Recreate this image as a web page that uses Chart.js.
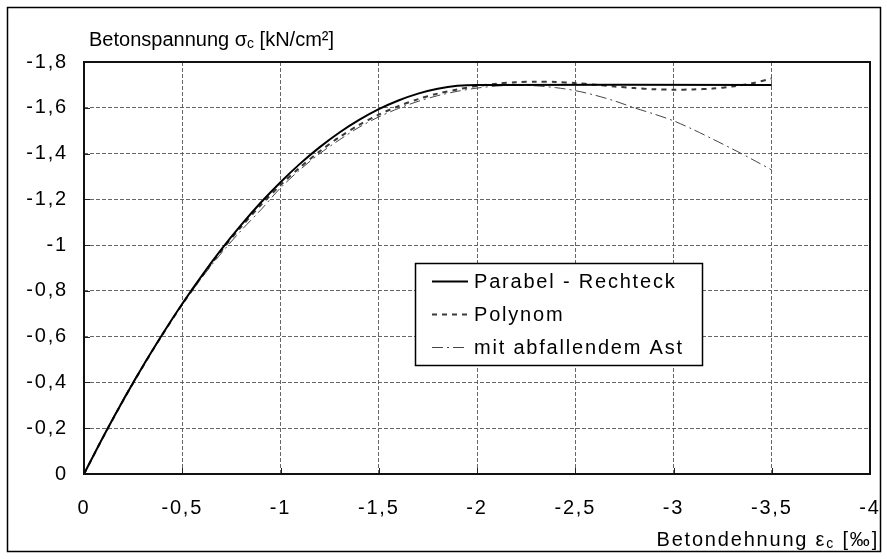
<!DOCTYPE html>
<html>
<head>
<meta charset="utf-8">
<script src="https://cdn.jsdelivr.net/npm/chart.js@4.4.0/dist/chart.umd.min.js"></script>
<style>
  html, body { margin: 0; padding: 0; background: #fff; }
  canvas { display: block; }
</style>
</head>
<body>
<canvas id="chart" width="887" height="559"></canvas>
<script>
/* ── data ──────────────────────────────────────────────────────── */
const LABELS = ['Parabel - Rechteck', 'Polynom', 'mit abfallendem Ast'];

// Parabel - Rechteck
const strainPR = [0, -0.1, -0.2, -0.3, -0.4, -0.5, -0.6, -0.7, -0.8, -0.9, -1.0,
                  -1.1, -1.2, -1.3, -1.4, -1.5, -1.6, -1.7, -1.8, -1.9, -2.0, -3.5];
const stressPR = [0, -0.166, -0.323, -0.472, -0.612, -0.744, -0.867, -0.982, -1.088, -1.186, -1.275,
                  -1.356, -1.428, -1.492, -1.547, -1.594, -1.632, -1.662, -1.683, -1.696, -1.70, -1.70];

// Polynom + mit abfallendem Ast share one strain grid
const strainCurve = [0, -0.1, -0.2, -0.3, -0.4, -0.5, -0.6, -0.7, -0.8, -0.9, -1.0,
                     -1.1, -1.2, -1.3, -1.4, -1.5, -1.6, -1.7, -1.8, -1.9, -2.0,
                     -2.1, -2.2, -2.3, -2.4, -2.5, -2.6, -2.7, -2.8, -2.9, -3.0,
                     -3.1, -3.2, -3.3, -3.4, -3.5];
const stressPoly = [0, -0.165, -0.322, -0.470, -0.610, -0.741, -0.863, -0.976, -1.080, -1.175, -1.262,
                    -1.340, -1.410, -1.472, -1.525, -1.570, -1.607, -1.638, -1.662, -1.680, -1.695,
                    -1.705, -1.712, -1.714, -1.713, -1.708, -1.701, -1.693, -1.686, -1.681, -1.679,
                    -1.680, -1.684, -1.693, -1.707, -1.728];
const stressAst  = [0, -0.168, -0.328, -0.476, -0.613, -0.740, -0.858, -0.966, -1.064, -1.154, -1.250,
                    -1.330, -1.400, -1.460, -1.515, -1.560, -1.597, -1.628, -1.653, -1.672, -1.686,
                    -1.695, -1.698, -1.696, -1.688, -1.675, -1.655, -1.630, -1.600, -1.573, -1.543,
                    -1.505, -1.463, -1.420, -1.375, -1.328];

const xTicks = [0, -0.5, -1, -1.5, -2, -2.5, -3, -3.5, -4];
const yTicks = [0, -0.2, -0.4, -0.6, -0.8, -1, -1.2, -1.4, -1.6, -1.8];

/* ── helpers ───────────────────────────────────────────────────── */
const FONT = '"Liberation Sans", Arial, sans-serif';
const WIDE = '1.8px';   // the source text is a bit wider than Arial
const zip = (xs, ys) => xs.map((x, i) => ({ x, y: ys[i] }));
const fmt = v => String(Number(v.toFixed(1))).replace('.', ',');

// text made of runs (for the subscript c)
function drawRuns(ctx, runs, x, y, align) {
  const widths = runs.map(r => { ctx.font = r.font; return ctx.measureText(r.text).width; });
  const total = widths.reduce((a, b) => a + b, 0);
  let cx = align === 'right' ? x - total : x;
  runs.forEach((r, i) => {
    ctx.font = r.font;
    ctx.fillText(r.text, cx, y + (r.dy || 0));
    cx += widths[i];
  });
}

function noPad(s) {
  s.paddingLeft = s.paddingRight = s.paddingTop = s.paddingBottom = 0;
}

/* ── plugins ───────────────────────────────────────────────────── */
const backdrop = {
  id: 'backdrop',
  beforeDraw(chart) {
    const ctx = chart.ctx;
    ctx.save();
    ctx.fillStyle = '#fff';
    ctx.fillRect(0, 0, chart.width, chart.height);
    ctx.strokeStyle = '#000';
    ctx.lineWidth = 1.5;
    ctx.strokeRect(7.5, 7.5, 873, 544);
    ctx.restore();
    ctx.letterSpacing = WIDE;   // stays on for the tick labels
  }
};

const frame = {
  id: 'frame',
  afterDraw(chart) {
    const { ctx, chartArea: a, scales } = chart;
    ctx.save();

    // inward tick marks
    ctx.strokeStyle = '#222';
    ctx.lineWidth = 1;
    ctx.beginPath();
    xTicks.forEach(v => {
      const px = Math.round(scales.x.getPixelForValue(v)) + 0.5;
      ctx.moveTo(px, a.bottom); ctx.lineTo(px, a.bottom - 6);
    });
    yTicks.forEach(v => {
      const py = Math.round(scales.y.getPixelForValue(v)) + 0.5;
      ctx.moveTo(a.left, py); ctx.lineTo(a.left + 6, py);
    });
    ctx.stroke();

    // plot box
    ctx.strokeStyle = '#111';
    ctx.lineWidth = 2;
    ctx.strokeRect(a.left, a.top, a.right - a.left, a.bottom - a.top);

    // legend box inside the plot
    const lx = 415, ly = 263, lw = 287, lh = 102;
    ctx.fillStyle = '#fff';
    ctx.fillRect(lx, ly, lw, lh);
    ctx.strokeStyle = '#000';
    ctx.lineWidth = 1.5;
    ctx.strokeRect(lx + 0.5, ly + 0.5, lw, lh);
    const rows = [281, 314, 347];
    ctx.textBaseline = 'middle';
    ctx.textAlign = 'left';
    ctx.letterSpacing = WIDE;
    chart.data.datasets.forEach((ds, i) => {
      ctx.strokeStyle = ds.borderColor;
      ctx.lineWidth = ds.borderWidth;
      ctx.setLineDash(ds.borderDash || []);
      ctx.beginPath();
      ctx.moveTo(432, rows[i] + 0.5); ctx.lineTo(468, rows[i] + 0.5);
      ctx.stroke();
      ctx.setLineDash([]);
      ctx.fillStyle = '#000';
      ctx.font = `20px ${FONT}`;
      ctx.fillText(ds.label, 474, rows[i] + 1);
    });

    // axis titles
    ctx.textBaseline = 'alphabetic';
    ctx.fillStyle = '#000';
    ctx.letterSpacing = '0px';
    drawRuns(ctx, [
      { text: 'Betonspannung σ', font: `20px ${FONT}` },
      { text: 'c', font: `14px ${FONT}`, dy: 2 },
      { text: ' [kN/cm²]', font: `20px ${FONT}` }
    ], 89, 46, 'left');
    ctx.letterSpacing = WIDE;
    drawRuns(ctx, [
      { text: 'Betondehnung ε', font: `20px ${FONT}` },
      { text: 'c', font: `14px ${FONT}`, dy: 2 },
      { text: ' [‰]', font: `20px ${FONT}` }
    ], 879, 546, 'right');

    ctx.restore();
  }
};

/* ── chart ─────────────────────────────────────────────────────── */
Chart.defaults.font.family = FONT;
Chart.defaults.font.size = 20;
Chart.defaults.color = '#000';

new Chart(document.getElementById('chart'), {
  type: 'line',
  data: {
    datasets: [
      {
        label: LABELS[0],
        data: zip(strainPR, stressPR),
        borderColor: '#000',
        borderWidth: 2,
        tension: 0.3,
        pointRadius: 0,
        order: 0
      },
      {
        label: LABELS[1],
        data: zip(strainCurve, stressPoly),
        borderColor: '#3a3a3a',
        borderWidth: 2,
        borderDash: [5, 5],
        tension: 0.3,
        pointRadius: 0,
        order: 1
      },
      {
        label: LABELS[2],
        data: zip(strainCurve, stressAst),
        borderColor: '#444',
        borderWidth: 1,
        borderDash: [11, 4, 2, 4],
        tension: 0.3,
        pointRadius: 0,
        order: 2
      }
    ]
  },
  options: {
    responsive: false,
    animation: false,
    devicePixelRatio: 1,
    layout: { autoPadding: false, padding: { left: 0, top: 62, right: 17, bottom: 0 } },
    plugins: {
      legend: { display: false },
      tooltip: { enabled: false }
    },
    scales: {
      x: {
        type: 'linear',
        min: -4, max: 0,
        reverse: true,
        afterBuildTicks: s => { s.ticks = xTicks.map(v => ({ value: v })); },
        afterFit: s => { s.height = 85; noPad(s); },
        ticks: { callback: v => fmt(v), padding: 22, maxRotation: 0, autoSkip: false },
        grid: { color: '#666', lineWidth: 1, tickLength: 0 },
        border: { display: false, dash: [4, 2] }
      },
      y: {
        type: 'linear',
        min: -1.8, max: 0,
        reverse: true,
        afterBuildTicks: s => { s.ticks = yTicks.map(v => ({ value: v })); },
        afterFit: s => { s.width = 84; noPad(s); },
        ticks: { callback: v => fmt(v), padding: 16, autoSkip: false },
        grid: { color: '#666', lineWidth: 1, tickLength: 0 },
        border: { display: false, dash: [4, 2] }
      }
    }
  },
  plugins: [backdrop, frame]
});
</script>
</body>
</html>
